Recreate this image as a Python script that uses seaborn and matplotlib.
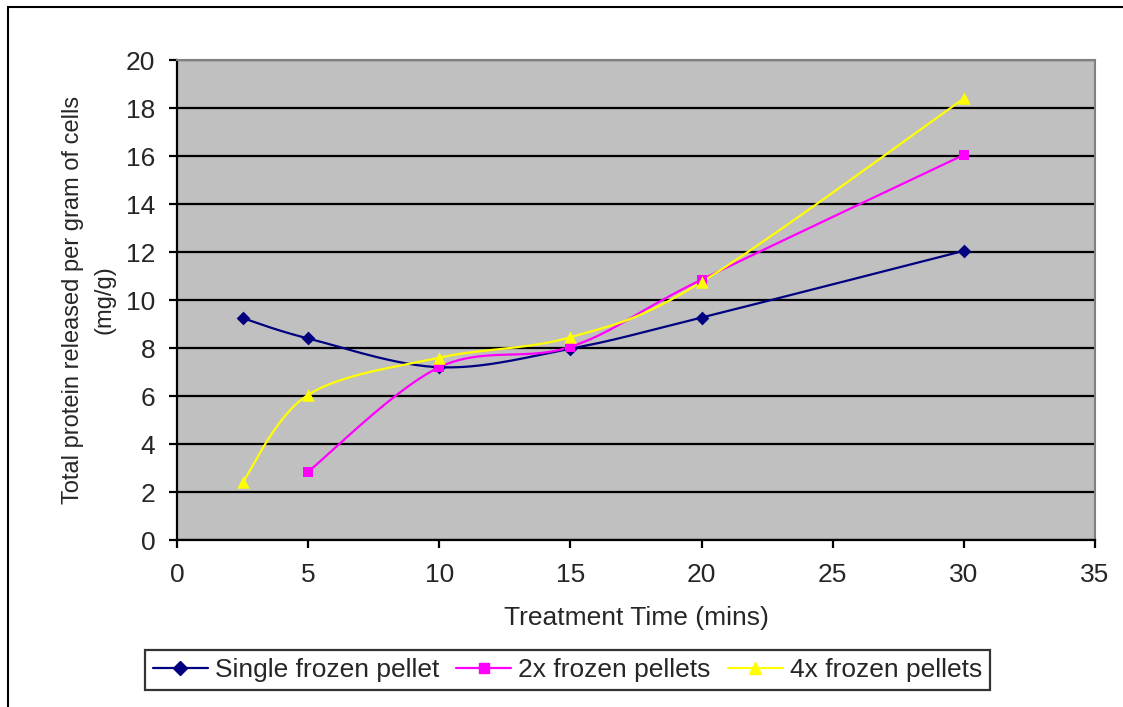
import numpy as np
import pandas as pd
import matplotlib
matplotlib.use("Agg")
import matplotlib.pyplot as plt
from matplotlib.lines import Line2D
from matplotlib.patches import Rectangle
import seaborn as sns

# values
time_single = [2.5, 5, 10, 15, 20, 30]
protein_single = [9.25, 8.4, 7.2, 7.97, 9.27, 12.05]

time_2x = [5, 10, 15, 20, 30]
protein_2x = [2.85, 7.2, 8.05, 10.85, 16.05]

time_4x = [2.5, 5, 10, 15, 20, 30]
protein_4x = [2.4, 6.05, 7.6, 8.45, 10.75, 18.4]

series_names = ["Single frozen pellet", "2x frozen pellets", "4x frozen pellets"]
series_colors = ["#000080", "#FF00FF", "#FFFF00"]
series_markers = ["D", "s", "^"]
marker_sizes = [7, 7.5, 9]


def smooth_curve(xs, ys, steps=30):
    """Сглаживание как в Excel (кривая Катмулла-Рома через точки)"""
    pts = np.column_stack([xs, ys]).astype(float)
    padded = np.vstack([pts[0], pts, pts[-1]])
    t = np.linspace(0, 1, steps)[:, None]
    out = []
    for i in range(1, len(padded) - 2):
        p0, p1, p2, p3 = padded[i - 1], padded[i], padded[i + 1], padded[i + 2]
        b1 = p1 + (p2 - p0) / 6
        b2 = p2 - (p3 - p1) / 6
        seg = ((1 - t) ** 3) * p1 + 3 * ((1 - t) ** 2) * t * b1 + 3 * (1 - t) * t ** 2 * b2 + t ** 3 * p2
        out.append(seg if i == 1 else seg[1:])
    out = np.vstack(out)
    return out[:, 0], out[:, 1]


sns.set_theme(style="white")
plt.rcParams['font.family'] = ['Liberation Sans', 'DejaVu Sans']

FS = 19

fig = plt.figure(figsize=(11.23, 7.07), dpi=100)
ax = fig.add_axes([0.1576, 0.2362, 0.8174, 0.6788])
ax.set_facecolor("#C0C0C0")

# рамка вокруг всей диаграммы
fig.patches.append(Rectangle((8 / 1123, -0.05), 1.2, 1 - 7 / 707 + 0.05,
                             transform=fig.transFigure, fill=False,
                             edgecolor="black", linewidth=1.5, zorder=10))

all_series = [(time_single, protein_single), (time_2x, protein_2x), (time_4x, protein_4x)]
for (xs, ys), name, color, mk, ms in zip(all_series, series_names, series_colors,
                                         series_markers, marker_sizes):
    sx, sy = smooth_curve(xs, ys)
    curve = pd.DataFrame({"x": sx, "y": sy})
    sns.lineplot(data=curve, x="x", y="y", sort=False, estimator=None,
                 color=color, linewidth=1.6, ax=ax, zorder=3)
    pts = pd.DataFrame({"x": xs, "y": ys})
    sns.scatterplot(data=pts, x="x", y="y", marker=mk, s=ms ** 2, color=color,
                    edgecolor=color, linewidth=0, ax=ax, zorder=4)

ax.set_xlim(0, 35)
ax.set_ylim(0, 20)
ax.set_xticks(np.arange(0, 36, 5))
ax.set_yticks(np.arange(0, 21, 2))
ax.yaxis.grid(True, color="black", linewidth=1.6)
ax.set_axisbelow(True)

for side in ["top", "right"]:
    ax.spines[side].set_color("#808080")
    ax.spines[side].set_linewidth(1.5)
for side in ["left", "bottom"]:
    ax.spines[side].set_color("black")
    ax.spines[side].set_linewidth(1.6)
ax.tick_params(axis="both", direction="out", length=5.5, width=1.6, color="black",
               labelsize=FS, bottom=True, left=True)
ax.tick_params(axis="x", pad=11)
ax.tick_params(axis="y", pad=10)

ax.set_xlabel("Treatment Time (mins)", fontsize=FS, labelpad=14)
ax.set_ylabel("Total protein released per gram of cells\n(mg/g)", fontsize=17,
              linespacing=1.55)
ax.yaxis.set_label_coords(-0.0675, 0.5)

handles = [Line2D([0], [0], color=c, marker=m, markersize=ms, linewidth=1.6)
           for c, m, ms in zip(series_colors, series_markers, marker_sizes)]
leg = fig.legend(handles, series_names, loc="center", bbox_to_anchor=(567.5 / 1123, 1 - 670 / 707),
                 ncol=3, fontsize=FS, frameon=True, fancybox=False, handlelength=2.08,
                 handletextpad=0.27, columnspacing=0.65, borderpad=0.3, borderaxespad=0)
leg.get_frame().set_edgecolor("black")
leg.get_frame().set_linewidth(1.6)

fig.savefig("out.png", dpi=100)
